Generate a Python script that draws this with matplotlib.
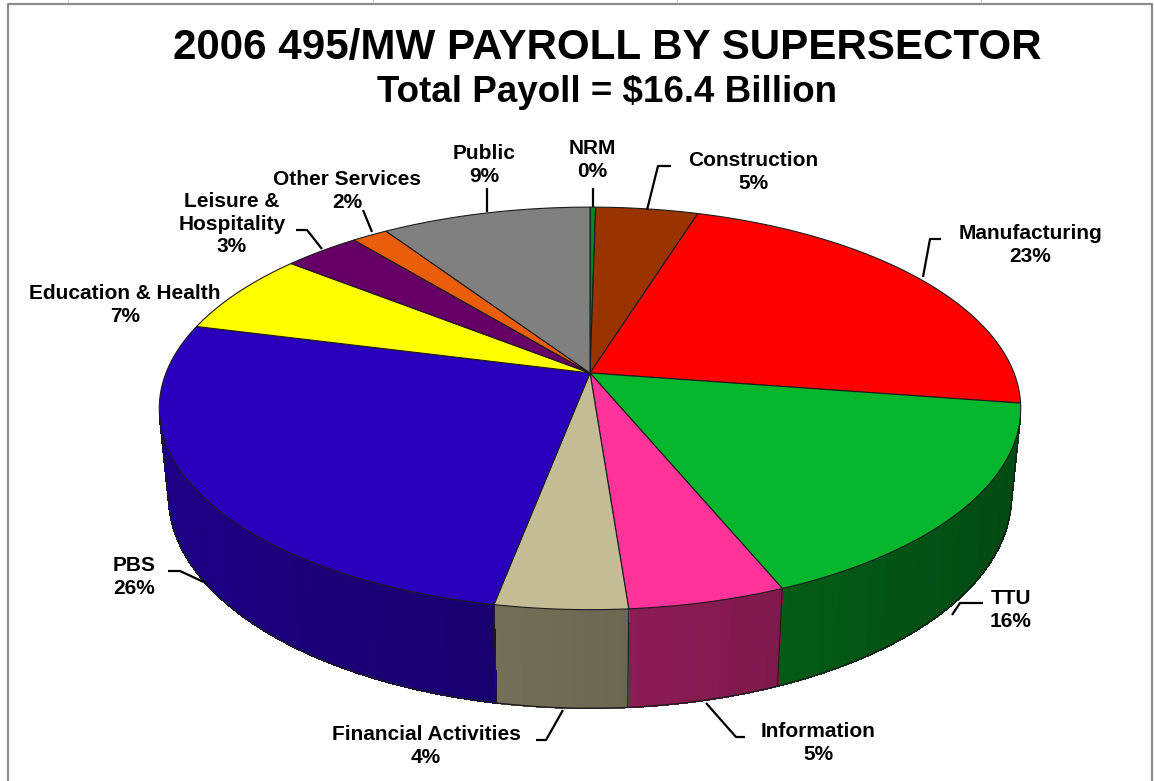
import numpy as np
import matplotlib
matplotlib.use("Agg")
import matplotlib.pyplot as plt
from matplotlib.patches import Polygon
from matplotlib.collections import PolyCollection
from matplotlib.colors import to_rgb

plt.rcParams['font.family'] = ['Liberation Sans', 'DejaVu Sans']

# payroll share by supersector, percent of total (clockwise from 12 o'clock)
sectors = ["NRM", "Construction", "Manufacturing", "TTU", "Information",
           "Financial Activities", "PBS", "Education & Health",
           "Leisure &\nHospitality", "Other Services", "Public"]
shares = [0.25, 4.55, 22.6, 16.4, 5.0, 4.2, 26.0, 6.7, 3.4, 1.6, 9.3]
colors = ["#008a20", "#993300", "#ff0000", "#06b62c", "#ff3399",
          "#c4bc96", "#2a00bc", "#ffff00", "#660066", "#ea5d0b", "#808080"]

title = "2006 495/MW PAYROLL BY SUPERSECTOR"
subtitle = "Total Payoll = $16.4 Billion"

# label block centres and leader lines, in pixels
label_pos = [(592, 160), (753, 172), (1030, 245), (1011, 610), (818, 743),
             (426, 746), (134, 577), (125, 305), (232, 224), (347, 191),
             (484, 165)]
leaders = [[(593, 188), (593, 207)],
           [(671, 166), (658, 166), (647, 210)],
           [(941, 239), (930, 239), (923, 277)],
           [(983, 603), (960, 603), (952, 615)],
           [(745, 737), (736, 737), (706, 703)],
           [(536, 740), (546, 740), (563, 710)],
           [(168, 571), (180, 571), (208, 584)],
           None,
           [(296, 230), (307, 230), (322, 249)],
           [(363, 210), (372, 232)],
           [(487, 188), (487, 212)]]

# 3d pie geometry (perspective view)
CX, CY = 590, 373
S = 424
PHI = np.arcsin(0.46)
D = 5.05
H = 0.235


def proj(theta, z, r=1.0):
    X = r * np.sin(theta)
    Y = -r * np.cos(theta)
    v = z * np.cos(PHI) - Y * np.sin(PHI)
    w = Y * np.cos(PHI) + z * np.sin(PHI)
    f = S / (1 - w / D)
    return CX + X * f, CY - v * f


def shade(theta):
    return 0.56 - 0.16 * np.sin(theta)


fig = plt.figure(figsize=(11.54, 7.81), dpi=100)
ax = fig.add_axes([0, 0, 1, 1])
ax.set_xlim(0, 1154)
ax.set_ylim(781, 0)
ax.axis("off")

# sheet frame
for gx in [68, 373, 677, 981]:
    ax.plot([gx, gx], [0, 4], color="#d0d0d0", lw=0.8)
ax.plot([8, 8, 1152, 1152], [781, 4, 4, 781], color="#8c8c8c", lw=1.6)

total = sum(shares)
bounds = 2 * np.pi * np.concatenate([[0], np.cumsum(shares)]) / total
edge = "#1c1c1c"

# side of the pie
t0 = np.arccos(-1 / (D * np.cos(PHI)))
t1 = 2 * np.pi - t0
quads, qcols = [], []
for i in range(len(shares)):
    a = max(bounds[i], t0)
    b = min(bounds[i + 1], t1)
    if a >= b:
        continue
    n = max(2, int((b - a) / 0.01))
    ts = np.linspace(a, b, n + 1)
    base = np.array(to_rgb(colors[i]))
    for ta, tb in zip(ts[:-1], ts[1:]):
        xa, ya = proj(ta, 0)
        xb, yb = proj(tb, 0)
        xc, yc = proj(tb, -H)
        xd, yd = proj(ta, -H)
        quads.append([(xa, ya), (xb, yb), (xc, yc), (xd, yd)])
        qcols.append(np.clip(base * shade(0.5 * (ta + tb)), 0, 1))
ax.add_collection(PolyCollection(quads, facecolors=qcols, edgecolors=qcols,
                                 linewidths=0.6, antialiaseds=False))

ts = np.linspace(t0, t1, 400)
bx, by = proj(ts, -H)
ax.plot(bx, by, color=edge, lw=1.0)
for t in [t0, t1] + [bb for bb in bounds if t0 < bb < t1]:
    x0, y0 = proj(t, 0)
    x1, y1 = proj(t, -H)
    ax.plot([x0, x1], [y0, y1], color=edge, lw=0.8)

# top face
for i in range(len(shares)):
    n = max(3, int((bounds[i + 1] - bounds[i]) / 0.004))
    ts = np.linspace(bounds[i], bounds[i + 1], n + 1)
    rx, ry = proj(ts, 0)
    pts = [(CX, CY)] + list(zip(rx, ry))
    ax.add_patch(Polygon(pts, closed=True, facecolor=colors[i],
                         edgecolor=edge, lw=0.8))

# labels
for i, name in enumerate(sectors):
    pct = int(shares[i] + 0.5)
    x, y = label_pos[i]
    ax.text(x, y, "%s\n%d%%" % (name, pct), ha="center", va="center",
            multialignment="center", fontsize=15, fontweight="bold",
            linespacing=1.22)
    if leaders[i] is not None:
        lx, ly = zip(*leaders[i])
        ax.plot(lx, ly, color="black", lw=1.6, solid_capstyle="butt")

ax.text(607, 48, title, ha="center", va="center", fontsize=30.3,
        fontweight="bold")
ax.text(607, 92, subtitle, ha="center", va="center", fontsize=26.5,
        fontweight="bold")

fig.savefig("out.png", dpi=100)
